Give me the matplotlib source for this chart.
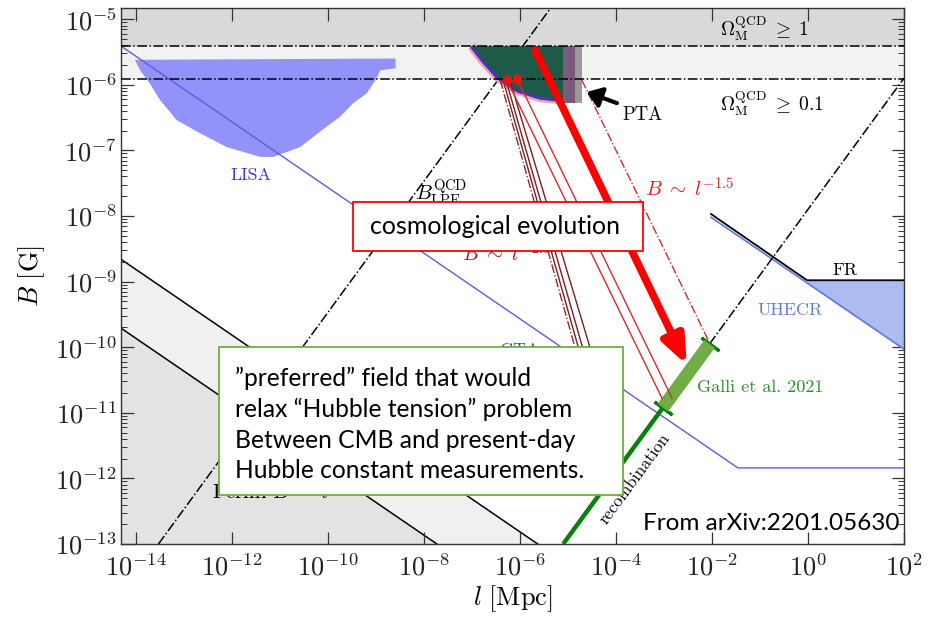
import numpy as np
import matplotlib
matplotlib.use('Agg')
import matplotlib.pyplot as plt
from matplotlib.patches import Rectangle, Polygon
from matplotlib.ticker import FixedLocator, NullLocator, LogLocator, FuncFormatter

plt.rcParams['mathtext.fontset'] = 'cm'
plt.rcParams['font.family'] = ['DejaVu Serif']

# ---------------- data (log10 values) ----------------
xlim_log = (-14.31, 2.0)
ylim_log = (-13.0, -4.83)

omega1_logB = -5.41     # Omega_M^QCD >= 1
omega01_logB = -5.91    # Omega_M^QCD >= 0.1

lisa_logl = [-14.02, -13.91, -13.71, -13.50, -13.15, -12.66, -12.11, -11.41, -11.14,
             -10.58, -10.03, -9.75, -9.47, -9.19, -9.01, -8.91, -8.59, -8.59]
lisa_logB = [-5.62, -5.78, -5.98, -6.23, -6.54, -6.74, -6.95, -7.10, -7.10,
             -6.95, -6.64, -6.49, -6.28, -6.13, -5.93, -5.78, -5.75, -5.60]

cta_logl = [-14.31, -1.46, 2.0]
cta_logB = [-5.41, -11.84, -11.84]

fermi_upper_logl = [-14.31, -5.63]
fermi_upper_logB = [-8.66, -13.0]
fermi_lower_logl = [-14.31, -7.73]
fermi_lower_logB = [-9.71, -13.0]

lpe_logl = [-13.53, -5.25]
lpe_logB = [-13.0, -4.72]

recomb_green_logl = [-5.10, -3.02]
recomb_green_logB = [-13.0, -10.92]
galli_logl = [-3.02, -2.05]
galli_logB = [-10.92, -9.95]
recomb_dash_logl = [-2.05, 2.0]
recomb_dash_logB = [-9.95, -5.90]

uhecr_logl = [-2.02, 2.0]
uhecr_logB = [-8.02, -10.03]
fr_logl = [-2.02, -0.02, 2.0]
fr_logB = [-7.97, -8.98, -8.98]

pta_edge_logl = [-7.00, -6.77, -6.46, -6.06, -5.58, -5.10]
pta_edge_logB = [-5.41, -5.625, -5.88, -6.08, -6.19, -6.23]
pta_bar_logl = [-5.10, -4.85, -4.71]
pta_bar_logB = [-6.28, -5.41]

dots_logl = [-6.27, -6.06]
dots_logB = [-5.93, -5.91]

# B ~ l^-2.5 tracks (first one dash-dot)
dark_start_logl = [-6.41, -6.35, -6.29, -6.21]
dark_start_logB = [-5.93, -5.93, -5.93, -5.93]
dark_end_logl = [-4.74, -4.67, -4.58, -4.42]
dark_end_logB = [-10.3, -10.3, -10.3, -10.3]
# B ~ l^-1.5 tracks (last one dash-dot)
red_start_logl = [-6.27, -6.06, -4.71]
red_start_logB = [-5.93, -5.91, -5.93]
red_end_logl = [-3.04, -2.83, -2.08]
red_end_logB = [-10.78, -10.78, -9.89]

big_arrow_logl = [-5.685, -2.525]
big_arrow_logB = [-5.47, -10.27]
pta_arrow_logl = [-3.98, -4.61]
pta_arrow_logB = [-6.28, -6.11]

xticks_exp = list(range(-14, 3, 2))
yticks_exp = list(range(-13, -4))

P = lambda v: 10.0 ** np.asarray(v, dtype=float)

# ---------------- figure ----------------
W, H = 937, 617
fig = plt.figure(figsize=(W / 100, H / 100), dpi=100)
ax = fig.add_axes([121 / W, 1 - 544 / H, (904 - 121) / W, (544 - 8) / H])
ax.set_xscale('log')
ax.set_yscale('log')
ax.set_xlim(P(xlim_log[0]), P(xlim_log[1]))
ax.set_ylim(P(ylim_log[0]), P(ylim_log[1]))

# bands
ax.axhspan(P(omega1_logB), P(ylim_log[1]), color='#d9d9d9', lw=0, zorder=0)
ax.axhspan(P(omega01_logB), P(omega1_logB), color='#f2f2f2', lw=0, zorder=0)

# Fermi grey regions
ax.fill_between(P(fermi_upper_logl), P(fermi_upper_logB), P(ylim_log[0]), color='#f0f0f0', lw=0, zorder=0.5)
ax.fill_between(P(fermi_lower_logl), P(fermi_lower_logB), P(ylim_log[0]), color='#e3e3e3', lw=0, zorder=0.6)
ax.plot(P(fermi_upper_logl), P(fermi_upper_logB), color='black', lw=1.1, zorder=1)
ax.plot(P(fermi_lower_logl), P(fermi_lower_logB), color='black', lw=1.1, zorder=1)

# LISA
ax.add_patch(Polygon(np.column_stack([P(lisa_logl), P(lisa_logB)]), closed=True,
                     facecolor='#9292f9', edgecolor='none', zorder=2))
# CTA line
ax.plot(P(cta_logl), P(cta_logB), color='#5b5be3', lw=1.0, zorder=3)

# UHECR / FR
fill_x = np.linspace(fr_logl[1], fr_logl[2], 50)
uh_interp = np.interp(fill_x, uhecr_logl, uhecr_logB)
ax.fill_between(P(fill_x), P(uh_interp), P(fr_logB[1]), color='#acbcf0', lw=0, zorder=2)
ax.plot(P(uhecr_logl), P(uhecr_logB), color='#5b78dc', lw=1.2, zorder=3)
ax.plot(P(fr_logl), P(fr_logB), color='black', lw=1.3, zorder=3)

# LPE dash-dot line
ax.plot(P(lpe_logl), P(lpe_logB), color='black', ls='-.', lw=1.1, zorder=3)

# recombination
ax.plot(P(recomb_green_logl), P(recomb_green_logB), color='#0a7f0a', lw=3.2, zorder=4,
        solid_capstyle='butt')
ax.plot(P(recomb_dash_logl), P(recomb_dash_logB), color='black', ls='-.', lw=1.1, zorder=3)
ax.plot(P(galli_logl), P(galli_logB), color='#70ad47', lw=9.5, zorder=5, solid_capstyle='butt')
ax.plot(P(galli_logl), P(galli_logB), ls='none', marker=(2, 2, 53.7), ms=16, mew=2.2,
        mec='#0a7f0a', zorder=4.5)

# PTA region
ax.plot(P(pta_edge_logl), P(pta_edge_logB), color='#f4a3a3', lw=7, zorder=4, solid_capstyle='butt')
ax.plot(P(pta_edge_logl), P(pta_edge_logB), color='#4a2fd8', lw=3.5, zorder=4.1, solid_capstyle='butt')
pta_poly = list(zip(P(pta_edge_logl), P(pta_edge_logB))) + [(P(pta_edge_logl[-1]), P(omega1_logB))]
ax.add_patch(Polygon(pta_poly, closed=True, facecolor='#1d5a48', edgecolor='none', zorder=4.2))
ax.add_patch(Rectangle((P(pta_bar_logl[0]), P(pta_bar_logB[0])),
                       P(pta_bar_logl[2]) - P(pta_bar_logl[0]), P(pta_bar_logB[1]) - P(pta_bar_logB[0]),
                       facecolor='#9a9a9a', edgecolor='none', zorder=4.3))
ax.add_patch(Rectangle((P(pta_bar_logl[0]), P(pta_bar_logB[0])),
                       P(pta_bar_logl[1]) - P(pta_bar_logl[0]), P(pta_bar_logB[1]) - P(pta_bar_logB[0]),
                       facecolor='#7c5a7c', edgecolor='none', zorder=4.4))

# horizontal Omega lines
ax.axhline(P(omega1_logB), color='black', ls='-.', lw=1.1, zorder=6)
ax.axhline(P(omega01_logB), color='black', ls='-.', lw=1.1, zorder=6)

# evolution tracks
for i in range(len(dark_start_logl)):
    ax.plot(P([dark_start_logl[i], dark_end_logl[i]]), P([dark_start_logB[i], dark_end_logB[i]]),
            color='#7d1e1e' if i else '#8e2a2a', ls='-.' if i == 0 else '-', lw=1.0, zorder=5)
for i in range(len(red_start_logl)):
    ax.plot(P([red_start_logl[i], red_end_logl[i]]), P([red_start_logB[i], red_end_logB[i]]),
            color='#d92a2a', ls='-.' if i == 2 else '-', lw=1.0, zorder=5)
ax.plot(P(dots_logl), P(dots_logB), 'o', color='#ee1111', ms=6, zorder=7)

# arrows
ax.annotate('', xy=(P(big_arrow_logl[1]), P(big_arrow_logB[1])),
            xytext=(P(big_arrow_logl[0]), P(big_arrow_logB[0])),
            arrowprops=dict(arrowstyle='-|>,head_length=0.42,head_width=0.17', lw=5.5, color='#ff0000',
                            mutation_scale=40, shrinkA=0, shrinkB=0), zorder=8)
ax.annotate('', xy=(P(pta_arrow_logl[1]), P(pta_arrow_logB[1])),
            xytext=(P(pta_arrow_logl[0]), P(pta_arrow_logB[0])),
            arrowprops=dict(arrowstyle='-|>,head_length=0.35,head_width=0.25', lw=3, color='black',
                            mutation_scale=25, shrinkA=0, shrinkB=0), zorder=8)

# labels in the plot
CM = 'cmr10'
def T(lx, ly, s, **kw):
    ax.text(P(lx), P(ly), s, **kw)

T(-1.83, -5.14, r'$\Omega_{\rm M}^{\rm QCD} \;\geq\; 1$', fontsize=14, va='center', ha='left', zorder=9)
T(-1.83, -6.28, r'$\Omega_{\rm M}^{\rm QCD} \;\geq\; 0.1$', fontsize=14, va='center', ha='left', zorder=9)
T(-3.87, -6.46, 'PTA', family=CM, fontsize=13.5, va='center', ha='left', zorder=9)
T(-11.60, -7.38, 'LISA', family=CM, fontsize=13, va='center', ha='center', color='#3a3acc', zorder=9)
T(-1.06, -9.44, 'UHECR', family=CM, fontsize=13, va='center', ha='left', color='#5a7fd6', zorder=9)
T(0.50, -8.83, 'FR', family=CM, fontsize=13, va='center', ha='left', zorder=9)
T(-6.41, -10.05, 'CTA', family=CM, fontsize=13, va='center', ha='left', color='#4444dd', zorder=9)
T(-2.31, -10.61, 'Galli et al. 2021', family=CM, fontsize=13, va='center', ha='left',
  color='#2e8b2e', zorder=9)
T(-3.60, -12.0, 'recombination', family=CM, fontsize=12.5, va='center', ha='center',
  rotation=53.7, rotation_mode='anchor', zorder=9)
T(-8.19, -7.65, r'$B_{\rm LPE}^{\rm QCD}$', fontsize=15, va='center', ha='left', zorder=9)
T(-7.21, -8.58, r'$B \;\sim\; l^{-2.5}$', fontsize=15, va='center', ha='left', color='#a02222', zorder=9)
T(-3.39, -7.58, r'$B \;\sim\; l^{-1.5}$', fontsize=15, va='center', ha='left', color='#dd2222', zorder=9)
T(-12.41, -12.21, r'$\mathrm{Fermi}\ B \;\sim\; l$', fontsize=15, va='center', ha='left', zorder=9)

# ticks
ax.xaxis.set_major_locator(FixedLocator(P(xticks_exp)))
ax.xaxis.set_minor_locator(NullLocator())
ax.yaxis.set_major_locator(FixedLocator(P(yticks_exp)))
ax.yaxis.set_minor_locator(LogLocator(base=10, subs=np.arange(2, 10), numticks=100))
fmt = FuncFormatter(lambda v, pos: r'$10^{%d}$' % int(round(np.log10(v))))
ax.xaxis.set_major_formatter(fmt)
ax.yaxis.set_major_formatter(fmt)
ax.tick_params(which='both', direction='in', top=True, right=True, colors='#333333')
ax.tick_params(which='major', length=9, width=0.9, labelsize=19, labelcolor='#222222')
ax.tick_params(axis='x', which='major', pad=7)
ax.tick_params(axis='y', which='major', pad=3)
ax.tick_params(which='minor', length=4.5, width=0.7)
for s in ax.spines.values():
    s.set_linewidth(1.0)
    s.set_color('#333333')

ax.set_xlabel(r'$l\ [\mathrm{Mpc}]$', fontsize=19, labelpad=2)
ax.set_ylabel(r'$B\ [\mathrm{G}]$', fontsize=19, labelpad=6)

# annotation boxes (figure pixel layout)
def fig_box(x0, y0, x1, y1, ec):
    ax.add_patch(Rectangle((x0 / W, 1 - y1 / H), (x1 - x0) / W, (y1 - y0) / H,
                           transform=fig.transFigure, facecolor='white', edgecolor=ec,
                           lw=1.3, clip_on=False, zorder=20))

def fig_text(x, y, s, **kw):
    ax.text(x / W, 1 - y / H, s, transform=fig.transFigure, family='Lato', zorder=21, **kw)

fig_box(353, 202, 643, 251, '#ff0000')
fig_text(370, 227, 'cosmological evolution', fontsize=18, va='center', ha='left')

fig_box(219, 347, 623, 495, '#70ad47')
box_lines = ['\u201dpreferred\u201d field that would',
             'relax \u201cHubble tension\u201d problem',
             'Between CMB and present-day',
             'Hubble constant measurements.']
for k, line in enumerate(box_lines):
    fig_text(235, 378 + 31 * k, line, fontsize=17.7, va='center', ha='left')

fig_text(900, 523, 'From arXiv:2201.05630', fontsize=17.5, va='center', ha='right')

fig.savefig('out.png', dpi=100)
